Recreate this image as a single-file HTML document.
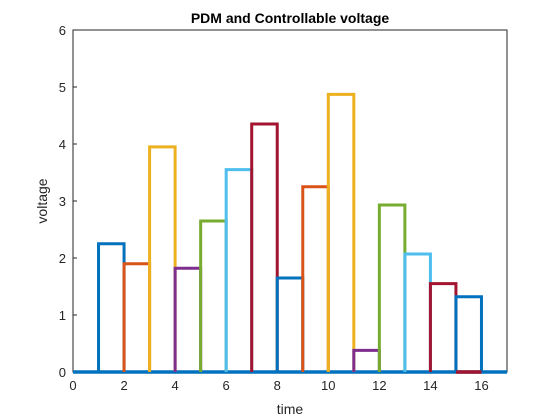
<!DOCTYPE html>
<html><head><meta charset="utf-8"><style>
body{margin:0;background:#fff;}
svg{display:block;font-family:"Liberation Sans",Arial,sans-serif;}
</style></head><body>
<svg id="chart" width="560" height="420" viewBox="0 0 560 420">
<rect x="0" y="0" width="560" height="420" fill="#fff"/>
<rect x="73" y="30" width="434" height="342" fill="#fff" stroke="#262626" stroke-width="1"/>
<g id="grid"></g>
<g id="marks"></g>
<text x="290" y="23" text-anchor="middle" font-size="14" font-weight="bold" fill="#000">PDM and Controllable voltage</text>
<text x="290" y="414" text-anchor="middle" font-size="14" fill="#262626">time</text>
<text transform="translate(47,201) rotate(-90)" text-anchor="middle" font-size="14" fill="#262626">voltage</text>
</svg>
<script>
const starts=[1,2,3,4,5,6,7,8,9,10,11,12,13,14,15];
const heights=[2.25,1.9,3.95,1.82,2.65,3.55,4.35,1.65,3.25,4.87,0.38,2.93,2.07,1.55,1.32];
const xTicks=[0,2,4,6,8,10,12,14,16];
const yTicks=[0,1,2,3,4,5,6];
const colors=["#0072BD","#D95319","#EDB120","#7E2F8E","#77AC30","#4DBEEE","#A2142F"];
const X=v=>73+v*(434/17), Y=v=>372-v*(342/6);
const NS="http://www.w3.org/2000/svg";
const g=document.getElementById('grid'), m=document.getElementById('marks');
function mk(tag,attrs,parent){const e=document.createElementNS(NS,tag);for(const k in attrs)e.setAttribute(k,attrs[k]);parent.appendChild(e);return e;}
xTicks.forEach(t=>{
 const l=mk('line',{x1:X(t),x2:X(t),y1:372,y2:368,stroke:'#262626'},g);
 
 
 const tx=mk('text',{x:X(t),y:390,'text-anchor':'middle','font-size':13,fill:'#262626'},g);
 tx.textContent=t;
 
 
});
yTicks.forEach(t=>{
 const l=mk('line',{x1:73,x2:77,y1:Y(t),y2:Y(t),stroke:'#262626'},g);
 
 
 const tx=mk('text',{x:66,y:Y(t)+5,'text-anchor':'end','font-size':13,fill:'#262626'},g);
 tx.textContent=t;
 
 
});
const base=mk('line',{x1:X(0),x2:X(17),y1:Y(0),y2:Y(0),stroke:colors[0],'stroke-width':3.5},m);


starts.forEach((s,i)=>{
 const h=heights[i];
 const p=mk('path',{d:`M${X(s)},${Y(0)}L${X(s)},${Y(h)}L${X(s+1)},${Y(h)}L${X(s+1)},${Y(0)}`,fill:'none',stroke:colors[i%7],'stroke-width':3},m);
 
 
});
const rb=mk('line',{x1:X(15),x2:X(16),y1:Y(0),y2:Y(0),stroke:colors[6],'stroke-width':3.5},m);


</script>
</body></html>
